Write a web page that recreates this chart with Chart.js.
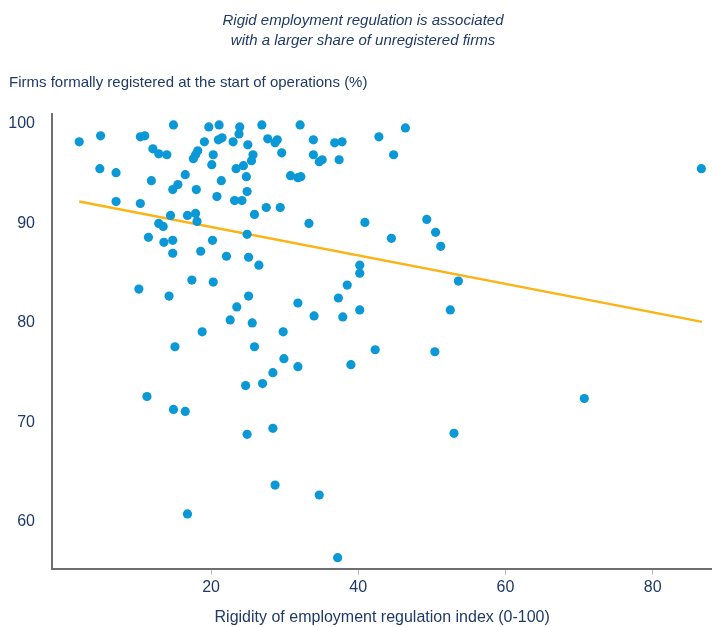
<!DOCTYPE html>
<html>
<head>
<meta charset="utf-8">
<script src="https://cdn.jsdelivr.net/npm/chart.js@4.4.1/dist/chart.umd.min.js"></script>
<style>
    html, body { margin: 0; padding: 0; background: #fff; overflow: hidden; }
    #wrap { position: relative; width: 717px; height: 627px; }
    #regChart { display: block; }
</style>
</head>
<body>
<div id="wrap"><canvas id="regChart"></canvas></div>
<script>
// ====== DATA ======
const titleLines = ['Rigid employment regulation is associated', 'with a larger share of unregistered firms'];
const yTitle = 'Firms formally registered at the start of operations (%)';
const xTitle = 'Rigidity of employment regulation index (0-100)';

const xTicks = [20, 40, 60, 80];
const yTicks = [60, 70, 80, 90, 100];

// rigidity index per country
const rigidity = [
    2.1, 5.0, 4.9, 7.1, 7.1, 10.4, 10.4, 11.0, 14.9, 12.1,
    12.9, 14.0, 11.9, 16.5, 14.8, 15.5, 18.0, 19.7, 21.1, 19.1,
    21.0, 21.5, 23.0, 23.9, 23.8, 18.2, 17.9, 17.6, 20.3, 20.1,
    23.4, 21.4, 20.8, 23.2, 24.2, 14.5, 16.8, 17.9, 18.1, 12.9,
    13.5, 11.5, 13.6, 14.8, 14.8, 18.6, 20.2, 22.1, 26.9, 32.1,
    46.4, 42.8, 25.0, 27.7, 29.0, 28.7, 33.9, 36.8, 37.8, 25.7,
    25.5, 29.6, 33.9, 34.7, 35.1, 37.4, 44.8, 24.4, 24.8, 30.8,
    31.8, 32.2, 24.9, 25.9, 27.5, 29.4, 33.3, 40.9, 49.3, 50.5,
    51.2, 24.9, 25.1, 44.5, 17.4, 20.3, 10.2, 14.3, 23.5, 22.6,
    18.8, 15.1, 11.3, 14.9, 16.5, 26.5, 40.2, 40.2, 38.5, 37.3,
    37.9, 40.2, 53.6, 52.5, 25.1, 25.6, 29.8, 31.8, 34.0, 25.9,
    29.9, 31.8, 28.4, 24.7, 27.0, 39.0, 42.3, 50.4, 24.9, 28.4,
    53.0, 28.7, 34.7, 16.8, 37.2, 86.6, 70.7
];
// share of firms registered at start (%)
const registered = [
    98.2, 98.8, 95.5, 95.1, 92.2, 92.0, 98.7, 98.8, 99.9, 97.5,
    97.0, 96.9, 94.3, 94.9, 93.4, 93.9, 93.4, 99.7, 99.9, 98.2,
    98.4, 98.6, 98.2, 99.7, 99.0, 97.3, 96.9, 96.5, 96.9, 95.9,
    95.5, 94.3, 92.7, 92.3, 92.3, 90.8, 90.8, 91.0, 90.2, 90.0,
    89.7, 88.6, 88.1, 88.3, 87.0, 87.2, 88.3, 86.7, 99.9, 99.9,
    99.6, 98.7, 97.9, 98.5, 98.4, 98.1, 98.4, 98.1, 98.2, 96.9,
    96.3, 97.1, 96.9, 96.2, 96.4, 96.4, 96.9, 95.8, 94.7, 94.8,
    94.6, 94.7, 93.2, 90.9, 91.6, 91.6, 90.0, 90.1, 90.4, 89.1,
    87.7, 88.9, 86.6, 88.5, 84.3, 84.1, 83.4, 82.7, 81.6, 80.3,
    79.1, 77.6, 72.6, 71.3, 71.1, 85.8, 85.8, 85.0, 83.8, 82.5,
    80.6, 81.3, 84.2, 81.3, 82.7, 80.0, 79.1, 82.0, 80.7, 77.6,
    76.4, 75.6, 75.0, 73.7, 73.9, 75.8, 77.3, 77.1, 68.8, 69.4,
    68.9, 63.7, 62.7, 60.8, 56.4, 95.5, 72.4
];

// fitted trend line end points
const trendX = [2.1, 86.7];
const trendY = [92.2, 80.1];

// ====== STYLE ======
const NAVY = '#1f3a68';
const DOT_BLUE = '#0a98d6';
const TREND_YELLOW = '#fbb315';
const AXIS_GRAY = '#6f6f6f';
const FONT = "'Liberation Sans', Arial, sans-serif";

Chart.defaults.font.family = FONT;
Chart.defaults.color = NAVY;

const points = rigidity.map((x, i) => ({ x: x, y: registered[i] }));
const trend = trendX.map((x, i) => ({ x: x, y: trendY[i] }));

const ctx = document.getElementById('regChart').getContext('2d');
const regChart = new Chart(ctx, {
    type: 'scatter',
    data: {
        datasets: [
            {
                label: 'Countries',
                data: points,
                backgroundColor: DOT_BLUE,
                borderWidth: 0,
                pointRadius: 4.6,
                pointHoverRadius: 4.6,
                order: 1
            },
            {
                label: 'Trend',
                type: 'line',
                data: trend,
                borderColor: TREND_YELLOW,
                borderWidth: 2.5,
                pointRadius: 0,
                fill: false,
                order: 2
            }
        ]
    },
    options: {
        responsive: true,
        maintainAspectRatio: false,
        animation: false,
        layout: {
            padding: { top: 11, left: 9, right: 0, bottom: 0 }
        },
        plugins: {
            legend: { display: false },
            tooltip: { enabled: false },
            title: {
                display: true,
                text: titleLines,
                color: NAVY,
                font: { size: 15, style: 'italic', weight: 'normal', lineHeight: 1.333 },
                padding: { top: 0, bottom: 22 }
            },
            subtitle: {
                display: true,
                text: yTitle,
                align: 'start',
                color: NAVY,
                font: { size: 15, weight: 'normal', lineHeight: 1.333 },
                padding: { top: 0, bottom: 21 }
            }
        },
        scales: {
            x: {
                type: 'linear',
                min: -1.6,
                max: 88.1,
                afterBuildTicks: (axis) => {
                    axis.ticks = xTicks.map(v => ({ value: v }));
                },
                border: { display: true, color: AXIS_GRAY, width: 2 },
                grid: {
                    drawOnChartArea: false,
                    drawTicks: true,
                    tickLength: 6,
                    color: '#b5b5b5'
                },
                ticks: {
                    color: NAVY,
                    font: { size: 16 },
                    padding: 3
                },
                title: {
                    display: true,
                    text: xTitle,
                    color: NAVY,
                    font: { size: 16 },
                    padding: { top: 8, bottom: 0 }
                }
            },
            y: {
                type: 'linear',
                min: 55.3,
                max: 101,
                afterBuildTicks: (axis) => {
                    axis.ticks = yTicks.map(v => ({ value: v }));
                },
                afterFit: (axis) => {
                    axis.width = 43;
                },
                border: { display: true, color: AXIS_GRAY, width: 2 },
                grid: {
                    drawOnChartArea: false,
                    drawTicks: false
                },
                ticks: {
                    color: NAVY,
                    font: { size: 16 },
                    padding: 17
                }
            }
        }
    }
});
</script>
</body>
</html>
